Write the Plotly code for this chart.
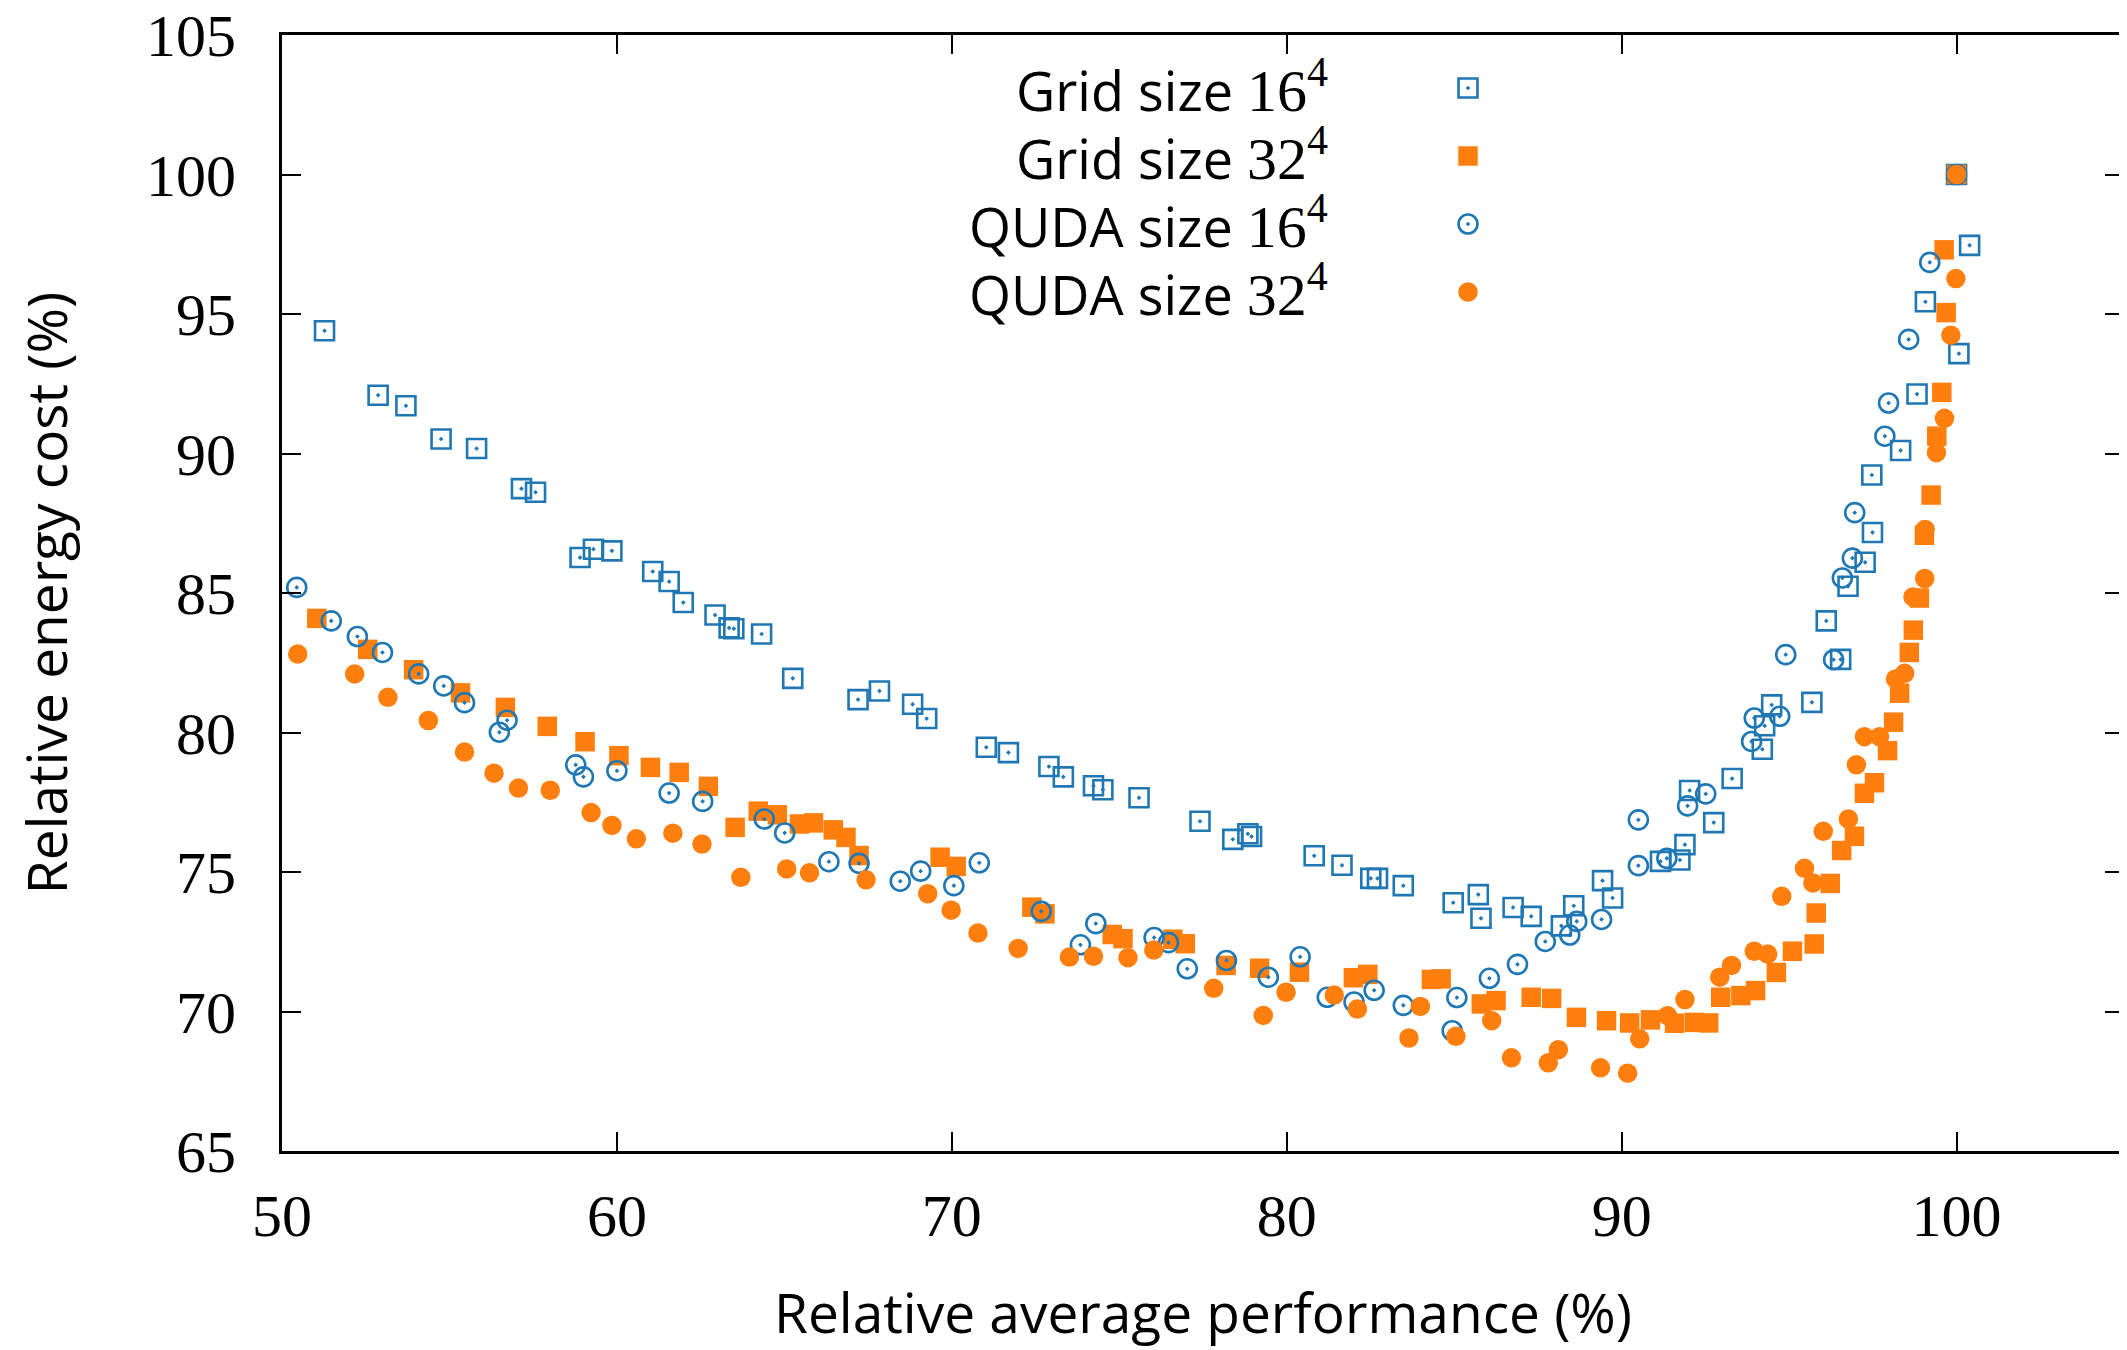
import plotly.graph_objects as go

# ---------------- data ----------------
grid16_x = [51.27, 52.87, 53.70, 54.75, 55.81, 57.15, 57.57, 58.90, 59.30, 59.85,
            61.07, 61.56, 61.98, 62.93, 63.35, 63.49, 64.32, 65.25, 67.20, 67.84,
            68.83, 69.25, 71.03, 71.69, 72.90, 73.33, 74.23, 74.51, 75.59, 77.41,
            78.39, 78.84, 78.95, 80.82, 81.65, 82.51, 82.71, 83.48, 84.97, 85.72,
            85.80, 86.76, 87.30, 88.20, 88.57, 89.43, 89.73, 91.16, 91.74, 91.89,
            92.03, 92.75, 93.30, 94.20, 94.27, 94.48, 95.68, 96.54, 96.11, 96.76,
            97.27, 97.49, 97.47, 98.33, 98.82, 99.07, 100.07, 100.39, 100.0]
grid16_y = [94.40, 92.09, 91.71, 90.52, 90.18, 88.74, 88.61, 86.27, 86.57, 86.51,
            85.77, 85.41, 84.66, 84.21, 83.75, 83.72, 83.53, 81.94, 81.18, 81.49,
            81.01, 80.50, 79.47, 79.28, 78.78, 78.41, 78.09, 77.95, 77.66, 76.82,
            76.17, 76.37, 76.27, 75.58, 75.24, 74.77, 74.77, 74.51, 73.90, 74.19,
            73.34, 73.73, 73.41, 73.07, 73.79, 74.69, 74.07, 75.38, 75.43, 75.98,
            77.92, 76.77, 78.35, 79.40, 80.24, 80.99, 81.08, 82.62, 84.00, 85.24,
            86.10, 87.17, 89.23, 90.11, 92.13, 95.44, 93.58, 97.46, 100.0]

grid32_x = [51.04, 52.56, 53.93, 55.33, 56.67, 57.92, 59.05, 60.06, 61.00, 61.86,
            62.73, 63.53, 64.22, 64.79, 65.45, 65.87, 66.46, 66.84, 67.23, 69.65,
            70.13, 72.39, 72.78, 74.79, 75.11, 76.60, 76.97, 78.19, 79.19, 80.38,
            81.99, 82.42, 84.32, 84.61, 85.81, 86.25, 87.30, 87.91, 88.65, 89.55,
            90.24, 90.86, 91.58, 92.17, 92.60, 92.96, 93.56, 94.00, 94.62, 95.10,
            95.75, 95.81, 96.23, 96.57, 96.95, 97.25, 97.55, 97.94, 98.12, 98.30,
            98.59, 98.71, 98.89, 99.04, 99.24, 99.41, 99.56, 99.69, 99.63, 100.0]
grid32_y = [84.09, 82.98, 82.25, 81.42, 80.90, 80.22, 79.67, 79.17, 78.75, 78.57,
            78.07, 76.60, 77.18, 77.05, 76.72, 76.76, 76.51, 76.24, 75.59, 75.53,
            75.20, 73.74, 73.50, 72.76, 72.61, 72.59, 72.43, 71.65, 71.55, 71.41,
            71.21, 71.33, 71.15, 71.17, 70.27, 70.39, 70.51, 70.47, 69.79, 69.67,
            69.59, 69.70, 69.58, 69.61, 69.59, 70.51, 70.57, 70.75, 71.40, 72.16,
            72.42, 73.53, 74.59, 75.77, 76.28, 77.82, 78.20, 79.35, 80.37, 81.41,
            82.87, 83.67, 84.82, 87.07, 88.51, 90.62, 92.19, 95.05, 97.30, 100.0]

quda16_x = [50.44, 51.47, 52.25, 53.00, 54.08, 54.83, 55.45, 56.72, 56.49, 58.77,
            59.00, 60.00, 61.56, 62.56, 64.40, 65.01, 66.33, 67.23, 68.46, 69.07,
            70.06, 70.82, 72.67, 73.84, 74.30, 76.04, 76.47, 77.03, 78.20, 79.45,
            80.40, 81.21, 82.01, 82.61, 83.48, 84.94, 85.08, 86.05, 86.89, 87.72,
            88.45, 88.66, 89.40, 90.50, 90.50, 91.35, 91.97, 92.51, 93.88, 93.96,
            94.72, 94.90, 96.33, 96.59, 96.89, 96.96, 97.86, 97.97, 98.57, 99.20,
            100.0]
quda16_y = [85.20, 84.00, 83.44, 82.87, 82.10, 81.67, 81.07, 80.44, 80.01, 78.84,
            78.41, 78.63, 77.83, 77.53, 76.90, 76.40, 75.37, 75.31, 74.67, 75.03,
            74.51, 75.33, 73.59, 72.39, 73.15, 72.65, 72.47, 71.53, 71.83, 71.23,
            71.96, 70.51, 70.34, 70.76, 70.22, 69.31, 70.50, 71.19, 71.69, 72.51,
            72.74, 73.23, 73.30, 75.23, 76.87, 75.49, 77.37, 77.80, 79.68, 80.52,
            80.58, 82.79, 82.61, 85.54, 86.25, 87.88, 90.62, 91.81, 94.09, 96.85,
            100.0]

quda32_x = [50.47, 52.17, 53.16, 54.37, 55.45, 56.33, 57.06, 58.01, 59.23, 59.85,
            60.58, 61.67, 62.54, 63.70, 65.07, 65.75, 67.44, 69.28, 69.98, 70.78,
            71.98, 73.51, 74.23, 75.26, 76.03, 77.82, 79.30, 79.98, 81.42, 82.11,
            83.65, 83.99, 85.05, 86.12, 86.71, 87.81, 88.11, 89.37, 90.18, 90.54,
            91.37, 91.89, 92.93, 93.28, 93.96, 94.36, 94.78, 95.46, 95.71, 96.02,
            96.77, 97.01, 97.25, 97.70, 98.18, 98.45, 98.70, 99.05, 99.06, 99.40,
            99.64, 99.83, 99.98, 100.0]
quda32_y = [82.81, 82.10, 81.26, 80.43, 79.30, 78.54, 78.01, 77.93, 77.13, 76.67,
            76.19, 76.39, 76.00, 74.81, 75.11, 74.97, 74.72, 74.22, 73.63, 72.81,
            72.26, 71.95, 71.98, 71.93, 72.20, 70.83, 69.86, 70.69, 70.59, 70.09,
            69.05, 70.18, 69.11, 69.67, 68.34, 68.16, 68.63, 67.98, 67.79, 69.02,
            69.85, 70.43, 71.23, 71.65, 72.16, 72.06, 74.13, 75.13, 74.61, 76.46,
            76.90, 78.84, 79.85, 79.85, 81.92, 82.12, 84.86, 85.52, 87.28, 90.03,
            91.26, 94.24, 96.27, 100.0]

series_names = [
    "Grid size <span style=\"font-family:Liberation Serif;font-size:60px\">16<sup>4</sup></span>",
    "Grid size <span style=\"font-family:Liberation Serif;font-size:60px\">32<sup>4</sup></span>",
    "QUDA size <span style=\"font-family:Liberation Serif;font-size:60px\">16<sup>4</sup></span>",
    "QUDA size <span style=\"font-family:Liberation Serif;font-size:60px\">32<sup>4</sup></span>",
]
x_ticks = [50, 60, 70, 80, 90, 100]
y_ticks = [65, 70, 75, 80, 85, 90, 95, 100, 105]

# ---------------- styling ----------------
BLUE = "#1f77b4"
ORANGE = "#ff7f0e"
SANS = "Open Sans"
SERIF = "Liberation Serif"

styles = [
    dict(symbol="square-open-dot", color=BLUE, size=19, line=dict(width=2.6, color=BLUE)),
    dict(symbol="square", color=ORANGE, size=19.5, line=dict(width=0)),
    dict(symbol="circle-open-dot", color=BLUE, size=19, line=dict(width=2.6, color=BLUE)),
    dict(symbol="circle", color=ORANGE, size=19.5, line=dict(width=0)),
]
data = [(grid16_x, grid16_y), (grid32_x, grid32_y), (quda16_x, quda16_y), (quda32_x, quda32_y)]

fig = go.Figure()
for (xs, ys), st, nm in zip(data, styles, series_names):
    fig.add_trace(go.Scatter(x=xs, y=ys, mode="markers", marker=st, name=nm,
                             showlegend=False, hoverinfo="x+y"))

# page body margin offsets the figure by 8 px; compensate in the margins
W, H = 2127, 1350
OFF = 8
L, R, T, B = 282 - OFF, 3 + OFF, 35 - OFF, 199 + OFF
pw, ph = W - L - R, H - T - B

# custom gnuplot-style legend: right-aligned text, key symbol on the right
key_px_x = 1468 - OFF
text_px_right = 1330 - OFF
row0_px_y = 88 - OFF
row_step = 68
key_x = (key_px_x - L) / pw
txt_x = (text_px_right - L) / pw
rows_y = [1 - (row0_px_y + i * row_step - T) / ph for i in range(4)]

for i, (st, nm) in enumerate(zip(styles, series_names)):
    fig.add_trace(go.Scatter(x=[key_x], y=[rows_y[i]], mode="markers", marker=st,
                             xaxis="x2", yaxis="y2", showlegend=False, hoverinfo="skip"))
    fig.add_annotation(x=txt_x, y=rows_y[i], xref="paper", yref="paper",
                       text=nm, showarrow=False, xanchor="right", yanchor="middle",
                       font=dict(family=SANS, size=54, color="black"))

axis_common = dict(showgrid=False, zeroline=False, showline=True, linecolor="black",
                   linewidth=3, mirror="ticks", ticks="inside", ticklen=19, tickwidth=2,
                   tickcolor="black", automargin=False, ticklabeloverflow="allow",
                   tickfont=dict(family=SERIF, size=60, color="black"))

fig.update_layout(
    width=W, height=H,
    margin=dict(l=L, r=R, t=T, b=B, pad=0, autoexpand=False),
    paper_bgcolor="white", plot_bgcolor="white",
    showlegend=False,
    xaxis=dict(range=[50, 105], tickvals=x_ticks, ticklabelstandoff=10,
               title=dict(text="Relative average performance (%)",
                          font=dict(family=SANS, size=55, color="black"), standoff=47),
               **axis_common),
    yaxis=dict(range=[65, 105], tickvals=y_ticks, ticklabelstandoff=31,
               title=dict(text="Relative energy cost (%)",
                          font=dict(family=SANS, size=55, color="black"), standoff=84),
               **axis_common),
    xaxis2=dict(overlaying="x", range=[0, 1], visible=False, fixedrange=True),
    yaxis2=dict(overlaying="y", range=[0, 1], visible=False, fixedrange=True),
)

fig.write_html("out.html")
